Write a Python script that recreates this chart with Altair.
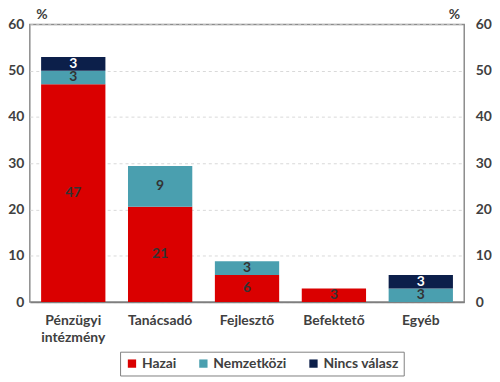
import altair as alt
import pandas as pd

categories = ["Pénzügyi intézmény", "Tanácsadó", "Fejlesztő", "Befektető", "Egyéb"]
series = ["Hazai", "Nemzetközi", "Nincs válasz"]
hazai = [47.06, 20.59, 5.88, 2.94, 0.0]
nemzetkozi = [2.94, 8.82, 2.94, 0.0, 2.94]
nincs = [2.94, 0.0, 0.0, 0.0, 2.94]
colors = ["#DA0000", "#4A9FAF", "#0C1F4A"]

rows = []
for i, c in enumerate(categories):
    for s, vals in zip(series, [hazai, nemzetkozi, nincs]):
        if vals[i] > 0:
            rows.append({"cat": c, "series": s, "value": vals[i], "ord": series.index(s)})
df = pd.DataFrame(rows)

FONT = "Lato"
base = alt.Chart(df).transform_stack(
    stack="value", as_=["y0", "y1"], groupby=["cat"], sort=[alt.SortField("ord", order="ascending")]
).transform_calculate(
    mid="(datum.y0 + datum.y1) / 2", lab="format(round(datum.value), 'd')"
)

xenc = alt.X("cat:N", sort=categories, scale=alt.Scale(paddingInner=0.26, paddingOuter=0.13),
             axis=alt.Axis(title=None, labelAngle=0, labelFont=FONT, labelFontSize=14, labelFontWeight="bold",
                           labelColor="#404040", ticks=False, labelPadding=12, domainColor="#7f7f7f",
                           domainWidth=1.5, labelLineHeight=17,
                           labelExpr="datum.label == 'Pénzügyi intézmény' ? ['Pénzügyi', 'intézmény'] : datum.label"))

yscale = alt.Scale(domain=[0, 60], nice=False)

bars = base.mark_bar().encode(
    x=xenc,
    y=alt.Y("y0:Q", scale=yscale,
            axis=alt.Axis(values=[0, 10, 20, 30, 40, 50, 60], title="%", titleAngle=0, titleX=6, titleY=-3,
                          titleAlign="left", titleBaseline="bottom", titleFont=FONT, titleFontSize=14,
                          titleFontWeight="bold", titleColor="#404040",
                          labelFont=FONT, labelFontSize=14, labelFontWeight="bold", labelColor="#404040",
                          ticks=False, labelPadding=6, domain=False,
                          grid=True, gridDash=[3, 3], gridColor="#d9d9d9")),
    y2="y1:Q",
    color=alt.Color("series:N", scale=alt.Scale(domain=series, range=colors),
                    legend=alt.Legend(title=None, orient="none", direction="horizontal",
                                      legendX=91, legendY=330, symbolType="square", symbolSize=70,
                                      symbolStrokeWidth=0, labelFont=FONT, labelFontSize=14,
                                      labelFontWeight="bold", labelColor="#404040", columnPadding=20,
                                      strokeColor="#7f7f7f", padding=5, labelOffset=3)),
)

text = base.mark_text(font=FONT, fontSize=14, fontWeight="bold", baseline="middle").encode(
    x=alt.X("cat:N", sort=categories),
    y=alt.Y("mid:Q", scale=yscale,
            axis=alt.Axis(orient="right", values=[0, 10, 20, 30, 40, 50, 60], title="%", titleAngle=0,
                          titleX=-16, titleY=-3, titleAlign="left", titleBaseline="bottom",
                          titleFont=FONT, titleFontSize=14, titleFontWeight="bold", titleColor="#404040",
                          labelFont=FONT, labelFontSize=14, labelFontWeight="bold", labelColor="#404040",
                          ticks=False, labelPadding=11, domain=False, grid=False)),
    text="lab:N",
    color=alt.condition("datum.series == 'Nincs válasz'", alt.value("#ffffff"), alt.value("#333333")),
)

chart = alt.layer(bars, text).resolve_axis(y="independent").properties(
    width=438, height=280,
    autosize=alt.AutoSizeParams(type="none"),
    padding={"left": 22, "top": 15, "right": 28, "bottom": 76},
).configure_view(stroke="#8c8c8c", strokeWidth=1.5)

chart.save("out.html", embed_options={"renderer": "svg", "actions": False})
